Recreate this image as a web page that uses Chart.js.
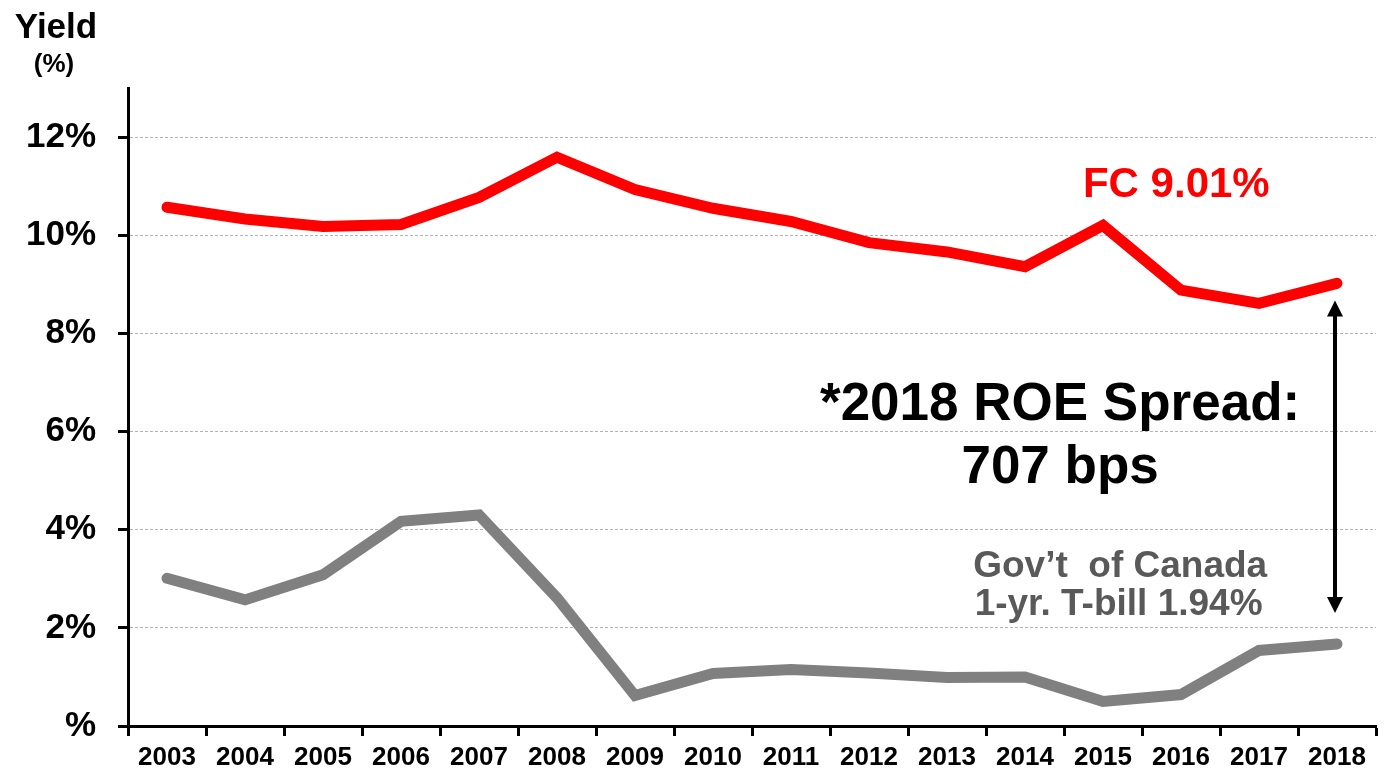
<!DOCTYPE html>
<html>
<head>
<meta charset="utf-8">
<script src="https://cdn.jsdelivr.net/npm/chart.js@4.4.1/dist/chart.umd.min.js"></script>
<style>
  html, body { margin: 0; padding: 0; background: #fff; }
  #wrap { width: 1386px; height: 776px; }
</style>
</head>
<body>
<div id="wrap"><canvas id="yieldChart" width="1386" height="776"></canvas></div>
<script>
/* FC allowed ROE vs 1-yr T-bill yield, 2003-2018 */

const years = ['2003', '2004', '2005', '2006', '2007', '2008', '2009', '2010',
               '2011', '2012', '2013', '2014', '2015', '2016', '2017', '2018'];
const fcRoe = [10.57, 10.33, 10.18, 10.22, 10.77, 11.59, 10.93, 10.55,
               10.28, 9.85, 9.66, 9.36, 10.20, 8.88, 8.61, 9.02];
const tBill = [3.01, 2.57, 3.08, 4.17, 4.30, 2.61, 0.62, 1.07,
               1.15, 1.08, 0.99, 1.00, 0.50, 0.64, 1.54, 1.67];
const yTicks = [0, 2, 4, 6, 8, 10, 12];
const spreadArrow = [8.67, 2.30];   // arrow ends, in % on the y scale

const FONT = '"Liberation Sans", Arial, sans-serif';

const notesPlugin = {
    id: 'yieldNotes',
    afterDatasetsDraw(chart) {
        const { ctx, scales: { x, y } } = chart;
        ctx.save();

        // double-headed spread arrow at 2018
        const ax = x.getPixelForValue(years.length - 1) - 2;
        const top = y.getPixelForValue(spreadArrow[0]);
        const bot = y.getPixelForValue(spreadArrow[1]);
        const head = 16, half = 8;
        ctx.strokeStyle = '#000';
        ctx.fillStyle = '#000';
        ctx.lineWidth = 4;
        ctx.beginPath();
        ctx.moveTo(ax, top + head - 2);
        ctx.lineTo(ax, bot - head + 2);
        ctx.stroke();
        ctx.beginPath();
        ctx.moveTo(ax, top);
        ctx.lineTo(ax - half, top + head);
        ctx.lineTo(ax + half, top + head);
        ctx.closePath();
        ctx.fill();
        ctx.beginPath();
        ctx.moveTo(ax, bot);
        ctx.lineTo(ax - half, bot - head);
        ctx.lineTo(ax + half, bot - head);
        ctx.closePath();
        ctx.fill();

        ctx.textAlign = 'center';
        ctx.textBaseline = 'alphabetic';

        ctx.fillStyle = '#ff0000';
        ctx.font = 'bold 42px ' + FONT;
        ctx.fillText('FC 9.01%', x.getPixelForValue(12.94), y.getPixelForValue(10.78));

        ctx.fillStyle = '#000';
        ctx.font = 'bold 53px ' + FONT;
        ctx.fillText('*2018 ROE Spread:', x.getPixelForValue(11.45), y.getPixelForValue(6.23));
        ctx.fillText('707 bps', x.getPixelForValue(11.45), y.getPixelForValue(4.95));

        ctx.fillStyle = '#595959';
        ctx.font = 'bold 37px ' + FONT;
        ctx.fillText('Gov\u2019t  of Canada', x.getPixelForValue(12.22), y.getPixelForValue(3.04));
        ctx.fillText('1-yr. T-bill 1.94%', x.getPixelForValue(12.2), y.getPixelForValue(2.26));

        ctx.restore();
    },
    afterDraw(chart) {
        const { ctx } = chart;
        ctx.save();
        ctx.fillStyle = '#000';
        ctx.textAlign = 'center';
        ctx.textBaseline = 'alphabetic';
        ctx.font = 'bold 35px ' + FONT;
        ctx.fillText('Yield', 56, 38);
        ctx.font = 'bold 26px ' + FONT;
        ctx.fillText('(%)', 54, 72);
        ctx.restore();
    }
};

new Chart(document.getElementById('yieldChart'), {
    type: 'line',
    data: {
        labels: years,
        datasets: [
            {
                label: 'FC',
                data: fcRoe,
                borderColor: '#ff0000',
                borderWidth: 11,
                borderCapStyle: 'round',
                pointRadius: 0,
                tension: 0
            },
            {
                label: '1-yr T-bill',
                data: tBill,
                borderColor: '#808080',
                borderWidth: 11,
                borderCapStyle: 'round',
                pointRadius: 0,
                tension: 0
            }
        ]
    },
    options: {
        responsive: false,
        animation: false,
        layout: { padding: { top: 88, right: 10, left: 0, bottom: 0 } },
        plugins: {
            legend: { display: false },
            tooltip: { enabled: false }
        },
        scales: {
            x: {
                offset: true,
                grid: {
                    offset: true,
                    drawOnChartArea: false,
                    tickLength: 10,
                    tickWidth: 3,
                    tickColor: '#000'
                },
                border: { color: '#000', width: 3 },
                ticks: {
                    autoSkip: false,
                    maxRotation: 0,
                    padding: 6,
                    color: '#000',
                    font: { family: FONT, size: 26, weight: 'bold' }
                },
                afterFit(scale) { scale.height = 50; }
            },
            y: {
                min: 0,
                max: 13,
                afterBuildTicks(scale) { scale.ticks = yTicks.map(v => ({ value: v })); },
                grid: {
                    color: '#b3b3b3',
                    lineWidth: 1,
                    tickLength: 10,
                    tickWidth: 3,
                    tickColor: '#000'
                },
                border: { color: '#000', width: 3, dash: [3, 2] },
                ticks: {
                    padding: 22,
                    color: '#000',
                    font: { family: FONT, size: 35, weight: 'bold' },
                    callback: v => (v === 0 ? '%' : v + '%')
                },
                afterFit(scale) { scale.width = 128; }
            }
        }
    },
    plugins: [notesPlugin]
});
</script>
</body>
</html>
